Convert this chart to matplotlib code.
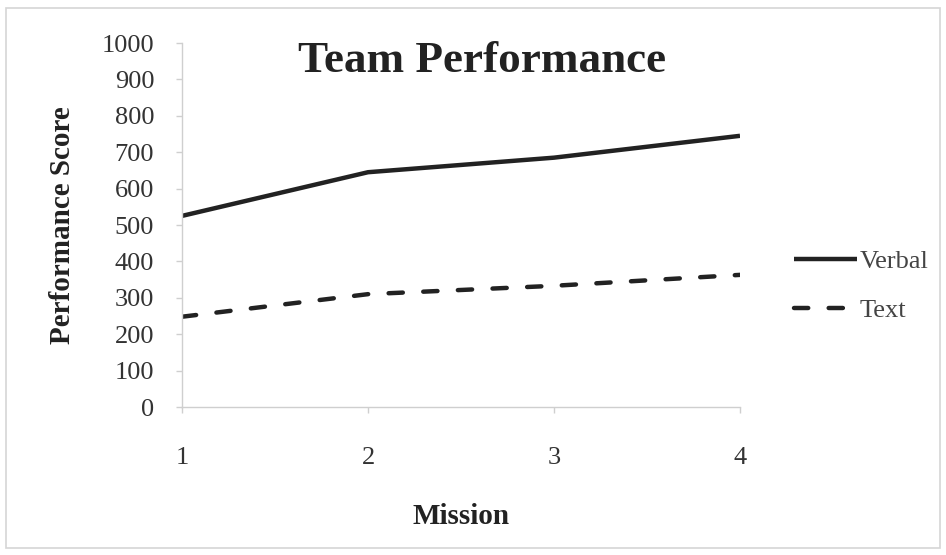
import matplotlib
matplotlib.use("Agg")
import matplotlib.pyplot as plt
from matplotlib.patches import Rectangle

plt.rcParams["font.family"] = ["Liberation Serif", "DejaVu Serif"]

# Data
missions = [1, 2, 3, 4]
verbal = [525, 645, 685, 745]
text = [248, 310, 333, 363]
y_ticks = list(range(0, 1001, 100))

fig = plt.figure(figsize=(9.46, 5.55), dpi=100)
ax = fig.add_axes([182 / 946, 1 - 407 / 555, (740 - 182) / 946, (407 - 43) / 555])

ink = "#222222"
ax.plot(missions, verbal, color=ink, lw=3.2, solid_capstyle="butt", label="Verbal")
ax.plot(missions, text, color=ink, lw=3.2, dashes=(3.2, 4.6), dash_capstyle="round",
        label="Text")

ax.set_xlim(1, 4)
ax.set_ylim(0, 1000)
ax.set_xticks(missions)
ax.set_yticks(y_ticks)

for side in ("top", "right"):
    ax.spines[side].set_visible(False)
for side in ("left", "bottom"):
    ax.spines[side].set_color("#cfcfcf")
    ax.spines[side].set_linewidth(1)
ax.tick_params(axis="both", colors="#cfcfcf", labelcolor="#333333", labelsize=19,
               length=4, width=1)
ax.tick_params(axis="y", pad=16)
ax.tick_params(axis="x", pad=25)

ax.set_ylabel("Performance Score", fontsize=21, fontweight="bold", color=ink)
ax.yaxis.set_label_coords(-0.19, 0.5)
ax.set_xlabel("Mission", fontsize=21, fontweight="bold", color=ink)
ax.xaxis.set_label_coords(0.5, -0.265)

fig.text(482 / 946, 1 - 61 / 555, "Team Performance", fontsize=32.5, fontweight="bold",
         color=ink, ha="center", va="center")

fig.legend(loc="center left", bbox_to_anchor=(770 / 946, 1 - 286 / 555), frameon=False,
           fontsize=19, handlelength=2.4, handletextpad=0.1, labelspacing=0.95,
           labelcolor="#444444")

# outer chart border
fig.patches.append(Rectangle((6 / 946, 7 / 555), 934 / 946, 540 / 555,
                             transform=fig.transFigure, fill=False,
                             edgecolor="#d5d5d5", lw=1.2))

fig.savefig("out.png", dpi=100)
